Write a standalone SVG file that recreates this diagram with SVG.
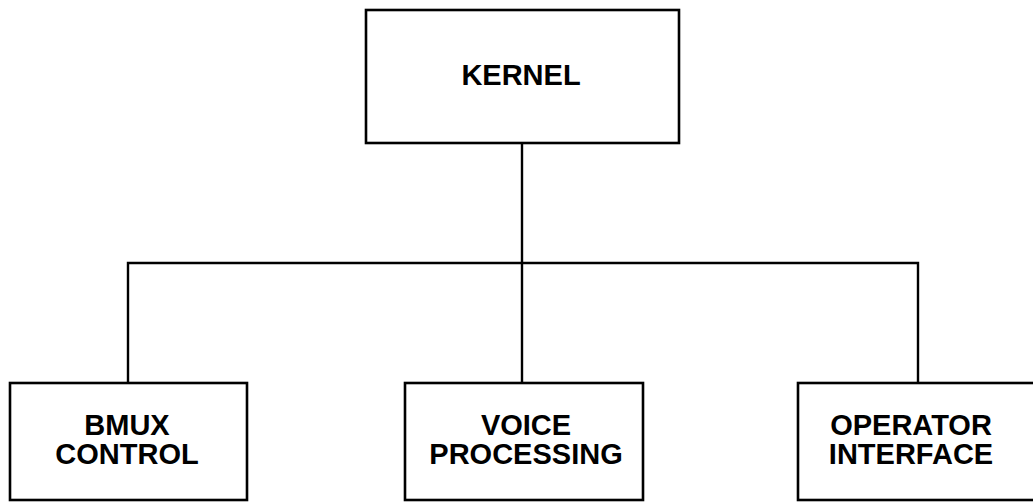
<svg xmlns="http://www.w3.org/2000/svg" width="1033" height="502" viewBox="0 0 1033 502">
<style>
.box{fill:#fff;stroke:#000;stroke-width:2.6}
.ln{fill:none;stroke:#000;stroke-width:2.4}
.t{font-family:"Liberation Sans",Arial,sans-serif;font-weight:bold;font-size:29px;text-anchor:middle;fill:#000}
</style>
<rect width="1033" height="502" fill="#fff"/>
<g id="connectors">
<line class="ln" x1="522" y1="143" x2="522" y2="383"/>
<polyline class="ln" points="128,383 128,263 918,263 918,383"/>
</g>
<g id="kernel">
<rect class="box" x="366" y="10" width="313" height="133"/>
<text class="t" x="521" y="85">KERNEL</text>
</g>
<g id="bmux">
<rect class="box" x="10" y="383" width="237" height="117"/>
<text class="t" x="127" y="435">BMUX</text>
<text class="t" x="127" y="464">CONTROL</text>
</g>
<g id="voice">
<rect class="box" x="405" y="383" width="238" height="117"/>
<text class="t" x="526" y="435">VOICE</text>
<text class="t" x="526" y="464">PROCESSING</text>
</g>
<g id="operator">
<rect class="box" x="798" y="383" width="245" height="117"/>
<text class="t" x="911" y="435">OPERATOR</text>
<text class="t" x="911" y="464">INTERFACE</text>
</g>
</svg>
